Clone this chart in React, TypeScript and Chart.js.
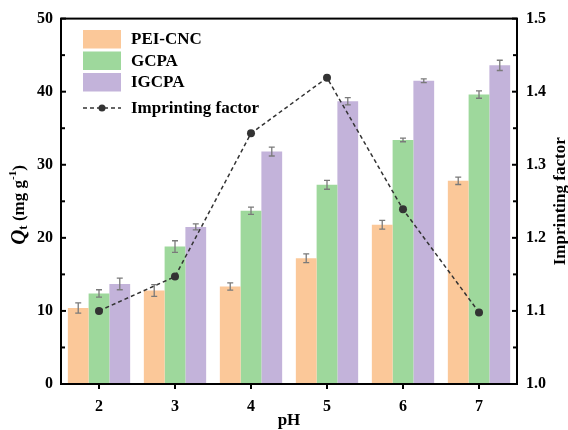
import React, { useEffect, useRef } from "react";
import { Chart, registerables } from "chart.js";

Chart.register(...registerables);

const categories = ["2", "3", "4", "5", "6", "7"];
const peiCnc = [10.4, 12.8, 13.35, 17.2, 21.8, 27.8];
const peiCncErr = [0.7, 0.8, 0.5, 0.6, 0.6, 0.5];
const gcpa = [12.4, 18.8, 23.7, 27.25, 33.4, 39.6];
const gcpaErr = [0.5, 0.8, 0.5, 0.6, 0.25, 0.5];
const igcpa = [13.7, 21.5, 31.8, 38.7, 41.5, 43.6];
const igcpaErr = [0.8, 0.4, 0.6, 0.5, 0.25, 0.7];
const imprinting = [1.1, 1.147, 1.343, 1.419, 1.239, 1.098];
const leftTicks = [0, 10, 20, 30, 40, 50];
const rightTicks = [1.0, 1.1, 1.2, 1.3, 1.4, 1.5];

const errors = [peiCncErr, gcpaErr, igcpaErr];
const colors = ["#FBC899", "#9ED89C", "#C3B3DA"];
const FONT = "'Liberation Serif', 'Times New Roman', serif";

const customPlugin = {
  id: "custom",
  afterDatasetsDraw(chart: any) {
    const ctx = chart.ctx;
    const y = chart.scales.y;
    ctx.save();
    ctx.strokeStyle = "#7a7a7a";
    ctx.lineWidth = 1.3;
    for (let d = 0; d < 3; d++) {
      const meta = chart.getDatasetMeta(d);
      const vals = chart.data.datasets[d].data;
      meta.data.forEach((bar: any, i: number) => {
        const e = errors[d][i];
        const top = y.getPixelForValue(vals[i] + e);
        const bot = y.getPixelForValue(vals[i] - e);
        const x = bar.x;
        ctx.beginPath();
        ctx.moveTo(x, top);
        ctx.lineTo(x, bot);
        ctx.moveTo(x - 3, top);
        ctx.lineTo(x + 3, top);
        ctx.moveTo(x - 3, bot);
        ctx.lineTo(x + 3, bot);
        ctx.stroke();
      });
    }
    ctx.restore();
  },
  afterDraw(chart: any) {
    const ctx = chart.ctx;
    const a = chart.chartArea;
    const y = chart.scales.y;
    const y1 = chart.scales.y1;
    const x = chart.scales.x;
    ctx.save();
    // frame
    ctx.strokeStyle = "#000";
    ctx.lineWidth = 2;
    ctx.strokeRect(a.left, a.top, a.right - a.left, a.bottom - a.top);
    // left ticks (inward)
    for (let v = 0; v <= 50; v += 5) {
      const py = y.getPixelForValue(v);
      ctx.beginPath();
      ctx.moveTo(a.left, py);
      ctx.lineTo(a.left + (v % 10 === 0 ? 5 : 4), py);
      ctx.stroke();
    }
    for (let k = 0; k <= 10; k++) {
      const v = 1.0 + k * 0.05;
      const py = y1.getPixelForValue(v);
      ctx.beginPath();
      ctx.moveTo(a.right, py);
      ctx.lineTo(a.right - (k % 2 === 0 ? 5 : 4), py);
      ctx.stroke();
    }
    // x ticks outward
    categories.forEach((_c, i) => {
      const px = x.getPixelForValue(i);
      ctx.beginPath();
      ctx.moveTo(px, a.bottom);
      ctx.lineTo(px, a.bottom + 5);
      ctx.stroke();
    });
    // x title
    ctx.fillStyle = "#000";
    ctx.font = `bold 17px ${FONT}`;
    ctx.textAlign = "center";
    ctx.textBaseline = "middle";
    ctx.fillText("pH", (a.left + a.right) / 2, 421);
    // right title
    ctx.save();
    ctx.translate(561, (a.top + a.bottom) / 2);
    ctx.rotate(-Math.PI / 2);
    ctx.fillText("Imprinting factor", 0, 0);
    ctx.restore();
    // left title
    ctx.save();
    const parts = [
      { t: "Q", f: `italic bold 21px ${FONT}`, dy: 0 },
      { t: "t", f: `bold 13px ${FONT}`, dy: 4 },
      { t: " (mg g", f: `bold 17px ${FONT}`, dy: 0 },
      { t: "-1", f: `bold 11px ${FONT}`, dy: -7 },
      { t: ")", f: `bold 17px ${FONT}`, dy: 0 },
    ];
    let total = 0;
    parts.forEach((p) => {
      ctx.font = p.f;
      total += ctx.measureText(p.t).width;
    });
    ctx.translate(20, 205);
    ctx.rotate(-Math.PI / 2);
    ctx.textAlign = "left";
    ctx.textBaseline = "middle";
    let cx = -total / 2;
    parts.forEach((p) => {
      ctx.font = p.f;
      ctx.fillText(p.t, cx, p.dy);
      cx += ctx.measureText(p.t).width;
    });
    ctx.restore();
    // legend
    const labels = ["PEI-CNC", "GCPA", "IGCPA"];
    ctx.font = `bold 17px ${FONT}`;
    ctx.textAlign = "left";
    ctx.textBaseline = "middle";
    const tops = [30, 51.5, 73];
    labels.forEach((l, i) => {
      ctx.fillStyle = colors[i];
      ctx.fillRect(83, tops[i], 38, 18.5);
      ctx.fillStyle = "#000";
      ctx.fillText(l, 131, tops[i] + 10);
    });
    ctx.strokeStyle = "#333";
    ctx.lineWidth = 1.5;
    ctx.setLineDash([4, 3]);
    ctx.beginPath();
    ctx.moveTo(83, 108);
    ctx.lineTo(121, 108);
    ctx.stroke();
    ctx.setLineDash([]);
    ctx.fillStyle = "#333";
    ctx.beginPath();
    ctx.arc(102, 108, 3.5, 0, Math.PI * 2);
    ctx.fill();
    ctx.fillStyle = "#000";
    ctx.fillText("Imprinting factor", 131, 109);
    ctx.restore();
  },
};

export default function App() {
  const ref = useRef<HTMLCanvasElement>(null);
  useEffect(() => {
    if (!ref.current) return;
    const tickFont = { family: FONT, size: 16, weight: "bold" as const };
    const chart = new Chart(ref.current, {
      type: "bar",
      data: {
        labels: categories,
        datasets: [
          { label: "PEI-CNC", data: peiCnc, backgroundColor: colors[0], order: 1, yAxisID: "y" },
          { label: "GCPA", data: gcpa, backgroundColor: colors[1], order: 1, yAxisID: "y" },
          { label: "IGCPA", data: igcpa, backgroundColor: colors[2], order: 1, yAxisID: "y" },
          {
            type: "line",
            label: "Imprinting factor",
            data: imprinting,
            yAxisID: "y1",
            order: 0,
            borderColor: "#333",
            borderWidth: 1.5,
            borderDash: [4, 3],
            pointRadius: 4,
            pointBackgroundColor: "#333",
            pointBorderWidth: 0,
            fill: false,
          } as any,
        ],
      },
      options: {
        responsive: false,
        animation: false,
        layout: { padding: { top: 17, left: 0, right: 0, bottom: 0 } },
        datasets: { bar: { categoryPercentage: 0.82, barPercentage: 1.0, borderWidth: 0 } },
        plugins: { legend: { display: false }, tooltip: { enabled: false } },
        scales: {
          x: {
            grid: { display: false, drawTicks: false },
            border: { display: false },
            ticks: { font: tickFont, color: "#000", padding: 13 },
            afterFit: (s: any) => { s.height = 46; },
          },
          y: {
            position: "left",
            min: 0,
            max: 50,
            grid: { display: false, drawTicks: false },
            border: { display: false },
            afterBuildTicks: (s: any) => { s.ticks = leftTicks.map((v) => ({ value: v })); },
            ticks: { font: tickFont, color: "#000", padding: 8 },
            afterFit: (s: any) => { s.width = 61; },
          },
          y1: {
            position: "right",
            min: 1.0,
            max: 1.5,
            grid: { display: false, drawTicks: false },
            border: { display: false },
            afterBuildTicks: (s: any) => { s.ticks = rightTicks.map((v) => ({ value: v })); },
            ticks: { font: tickFont, color: "#000", padding: 9, callback: (v: any) => Number(v).toFixed(1) },
            afterFit: (s: any) => { s.width = 51; },
          },
        },
      },
      plugins: [customPlugin],
    });
    return () => chart.destroy();
  }, []);
  return (
    <div style={{ position: "fixed", left: 0, top: 0, width: 568, height: 430, background: "#fff" }}>
      <canvas ref={ref} width={568} height={430} style={{ display: "block" }} />
    </div>
  );
}
